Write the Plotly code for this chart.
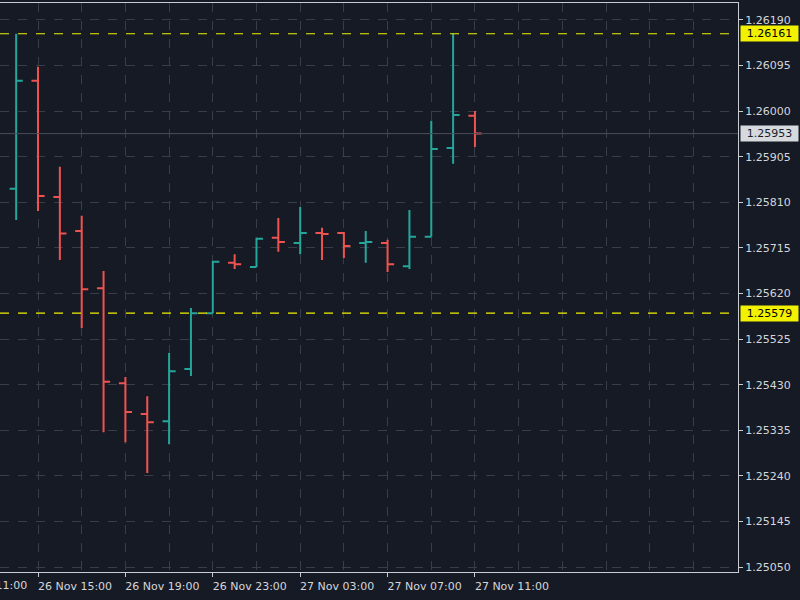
import pandas as pd
import plotly.graph_objects as go

# Hourly OHLC bars (26 Nov 14:00 -> 27 Nov 11:00)
times = pd.date_range("2024-11-26 14:00", "2024-11-27 11:00", freq="h")
opens = [1.25838, 1.26063, 1.25821, 1.25750, 1.25631, 1.25433, 1.25369, 1.25354,
         1.25463, 1.25579, 1.25684, 1.25675, 1.25736, 1.25725, 1.25746, 1.25746,
         1.25725, 1.25725, 1.25677, 1.25738, 1.25923, 1.25990]
highs = [1.26161, 1.26092, 1.25884, 1.25782, 1.25667, 1.25446, 1.25406, 1.25496,
         1.25590, 1.25688, 1.25702, 1.25736, 1.25777, 1.25800, 1.25757, 1.25748,
         1.25750, 1.25732, 1.25794, 1.25980, 1.26161, 1.26000]
lows = [1.25773, 1.25792, 1.25690, 1.25548, 1.25331, 1.25310, 1.25246, 1.25306,
        1.25448, 1.25579, 1.25671, 1.25675, 1.25707, 1.25702, 1.25690, 1.25694,
        1.25684, 1.25665, 1.25671, 1.25738, 1.25890, 1.25925]
closes = [1.26063, 1.25823, 1.25745, 1.25629, 1.25436, 1.25373, 1.25352, 1.25458,
          1.25579, 1.25686, 1.25681, 1.25734, 1.25727, 1.25746, 1.25744, 1.25719,
          1.25727, 1.25681, 1.25738, 1.25921, 1.25992, 1.25953]

level_high = 1.26161
level_low = 1.25579
last_price = 1.25953

y_min, y_max = 1.25040, 1.26225
y_tick0, y_dtick = 1.25050, 0.00095

# labelled time ticks
x_ticks = pd.to_datetime(["2024-11-26 15:00", "2024-11-26 19:00", "2024-11-26 23:00",
                          "2024-11-27 03:00", "2024-11-27 07:00", "2024-11-27 11:00"])
off_label_time = pd.Timestamp("2024-11-26 11:00")

x_start = pd.Timestamp("2024-11-26 13:15:36")
x_end = x_start + pd.Timedelta(hours=33.78)

BG = "#161a25"
GRID = "#383d49"
AXIS = "#c9ccd3"
TEXT = "#d4d6db"
TEAL = "#26a69a"
RED = "#ef5350"
YELLOW = "#f2f200"
FONT = "DejaVu Sans"

fig = go.Figure()
fig.add_trace(go.Ohlc(
    x=times, open=opens, high=highs, low=lows, close=closes,
    increasing=dict(line=dict(color=TEAL, width=2)),
    decreasing=dict(line=dict(color=RED, width=2)),
    tickwidth=0.3, showlegend=False, hoverinfo="skip",
))

# horizontal levels
for lvl, col, dash, w in [(level_high, YELLOW, "dash", 1.2), (level_low, YELLOW, "dash", 1.2),
                          (last_price, "#4a4f5a", "solid", 1)]:
    fig.add_shape(type="line", xref="paper", x0=0, x1=1, yref="y", y0=lvl, y1=lvl,
                  line=dict(color=col, width=w, dash=dash), layer="above")

# price boxes on the axis
for lvl, bg, fg in [(level_high, YELLOW, "#000000"), (level_low, YELLOW, "#000000"),
                    (last_price, "#d6d9de", "#1a1d26")]:
    fig.add_annotation(xref="paper", x=1, xanchor="left", xshift=2, yref="y", y=lvl,
                       text=f"{lvl:.5f}", showarrow=False, bgcolor=bg,
                       font=dict(family=FONT, size=11, color=fg),
                       borderpad=1, width=55, align="center")

# partially visible time label left of the range
frac = (off_label_time - x_start) / (x_end - x_start)
fig.add_annotation(xref="paper", x=frac, xanchor="left", yref="paper", y=0, yanchor="top",
                   yshift=-5, text="26 Nov 11:00", showarrow=False,
                   font=dict(family=FONT, size=11, color=TEXT))

fig.update_layout(
    width=800, height=600,
    margin=dict(l=0, r=62, t=3, b=28),
    paper_bgcolor=BG, plot_bgcolor=BG,
    font=dict(family=FONT, size=11, color=TEXT),
    showlegend=False,
    xaxis=dict(
        type="date", range=[x_start, x_end],
        rangeslider=dict(visible=False),
        tickmode="array", tickvals=x_ticks,
        tickformat="%d %b %H:%M",
        ticks="outside", ticklen=4, tickcolor=AXIS,
        ticklabelshift=37,
        showline=True, linecolor=AXIS, linewidth=1, mirror=True,
        showgrid=True, gridcolor=GRID, griddash="dash", gridwidth=1,
        minor=dict(tickmode="linear", dtick=2 * 3600 * 1000, tick0="2024-11-26 01:00",
                   showgrid=True, gridcolor=GRID, griddash="dash", gridwidth=1),
        zeroline=False,
        tickfont=dict(family=FONT, size=11, color=TEXT),
    ),
    yaxis=dict(
        side="right", range=[y_min, y_max],
        tick0=y_tick0, dtick=y_dtick, tickformat=".5f",
        ticks="outside", ticklen=4, tickcolor=AXIS,
        showline=True, linecolor=AXIS, linewidth=1,
        showgrid=True, gridcolor=GRID, griddash="dash", gridwidth=1,
        zeroline=False,
        tickfont=dict(family=FONT, size=11, color=TEXT),
    ),
)

fig.write_html("out.html")
